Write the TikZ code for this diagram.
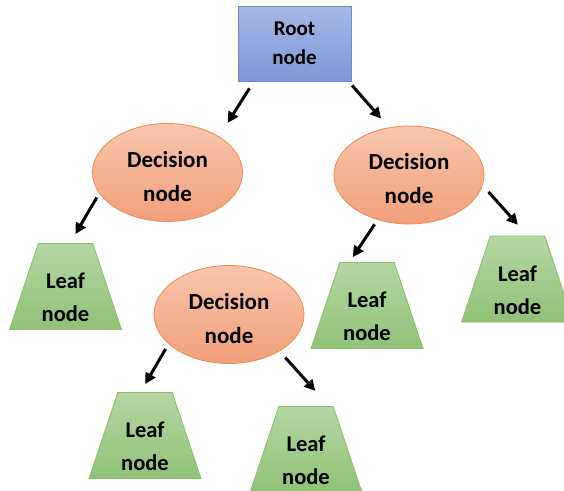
\documentclass[tikz,border=0pt]{standalone}
\usepackage{fontspec}
\setmainfont{Carlito}
\usetikzlibrary{shapes.geometric}
\usetikzlibrary{arrows.meta}

\definecolor{roottop}{HTML}{A6B8E6}
\definecolor{rootbot}{HTML}{7E97D7}
\definecolor{rootline}{HTML}{6F8CD2}
\definecolor{dectop}{HTML}{F7C6AD}
\definecolor{decbot}{HTML}{F29F7A}
\definecolor{decline}{HTML}{EE8A52}
\definecolor{leaftop}{HTML}{B6D6A3}
\definecolor{leafbot}{HTML}{90C277}
\definecolor{leafline}{HTML}{8BBE6E}

\begin{document}
\begin{tikzpicture}[x=1pt,y=-1pt,
  rootbox/.style={draw=rootline, top color=roottop, bottom color=rootbot, line width=0.8pt,
    minimum width=113pt, minimum height=75pt, inner sep=0pt, align=center,
    font=\fontsize{21}{29}\selectfont\bfseries},
  decision/.style={ellipse, draw=decline, top color=dectop, bottom color=decbot, line width=0.8pt,
    minimum width=150pt, minimum height=98pt, inner sep=0pt,
    label={[align=center, yshift=-4pt, font=\fontsize{23}{34}\selectfont\bfseries]center:{Decision\\node}}},
  leaf/.style={trapezium, trapezium left angle=71.5, trapezium right angle=71.5,
    trapezium stretches body, draw=leafline, top color=leaftop, bottom color=leafbot,
    line width=0.8pt, minimum width=112pt, inner xsep=0pt, inner ysep=43pt,
    label={[align=center, yshift=-11pt, font=\fontsize{22.5}{33}\selectfont\bfseries]center:{Leaf\\node}}},
  arr/.style={-{Triangle[length=11pt,width=11pt]}, line width=3pt}]
\useasboundingbox (0,0) rectangle (564,490);
\clip (0,0) rectangle (564,490);

% nodes
\node[rootbox] (root) at (294.5,43.5) {Root\\node};
\node[decision] (dl) at (167.5,172.5) {};
\node[decision] (dr) at (409,175) {};
\node[decision] (dm) at (229,314.5) {};
\node[leaf] (leafL) at (65.5,286.5) {};
\node[leaf] (leafM) at (367,305.5) {};
\node[leaf] (leafR) at (517.5,279) {};
\node[leaf] (leafBL) at (145,435.5) {};
\node[leaf] (leafBR) at (306,449.5) {};

% arrows
\draw[arr, shorten <=8.3pt, shorten >=16pt] (root.223) -- (dl.35);
\draw[arr, shorten <=5.3pt, shorten >=11.7pt] (root.325) -- (dr.113);
\draw[arr, shorten <=4.7pt, shorten >=10.5pt] (dl.197) -- (leafL.84);
\draw[arr, shorten <=5.3pt, shorten >=6pt] (dr.235) -- (leafM.112);
\draw[arr, shorten <=8.7pt, shorten >=14.5pt] (dr.352) -- (leafR.77);
\draw[arr, shorten <=5.7pt, shorten >=9.3pt] (dm.206) -- (leafBL.96);
\draw[arr, shorten <=8.6pt, shorten >=20.5pt] (dm.324) -- (leafBR.62);

\end{tikzpicture}
\end{document}
